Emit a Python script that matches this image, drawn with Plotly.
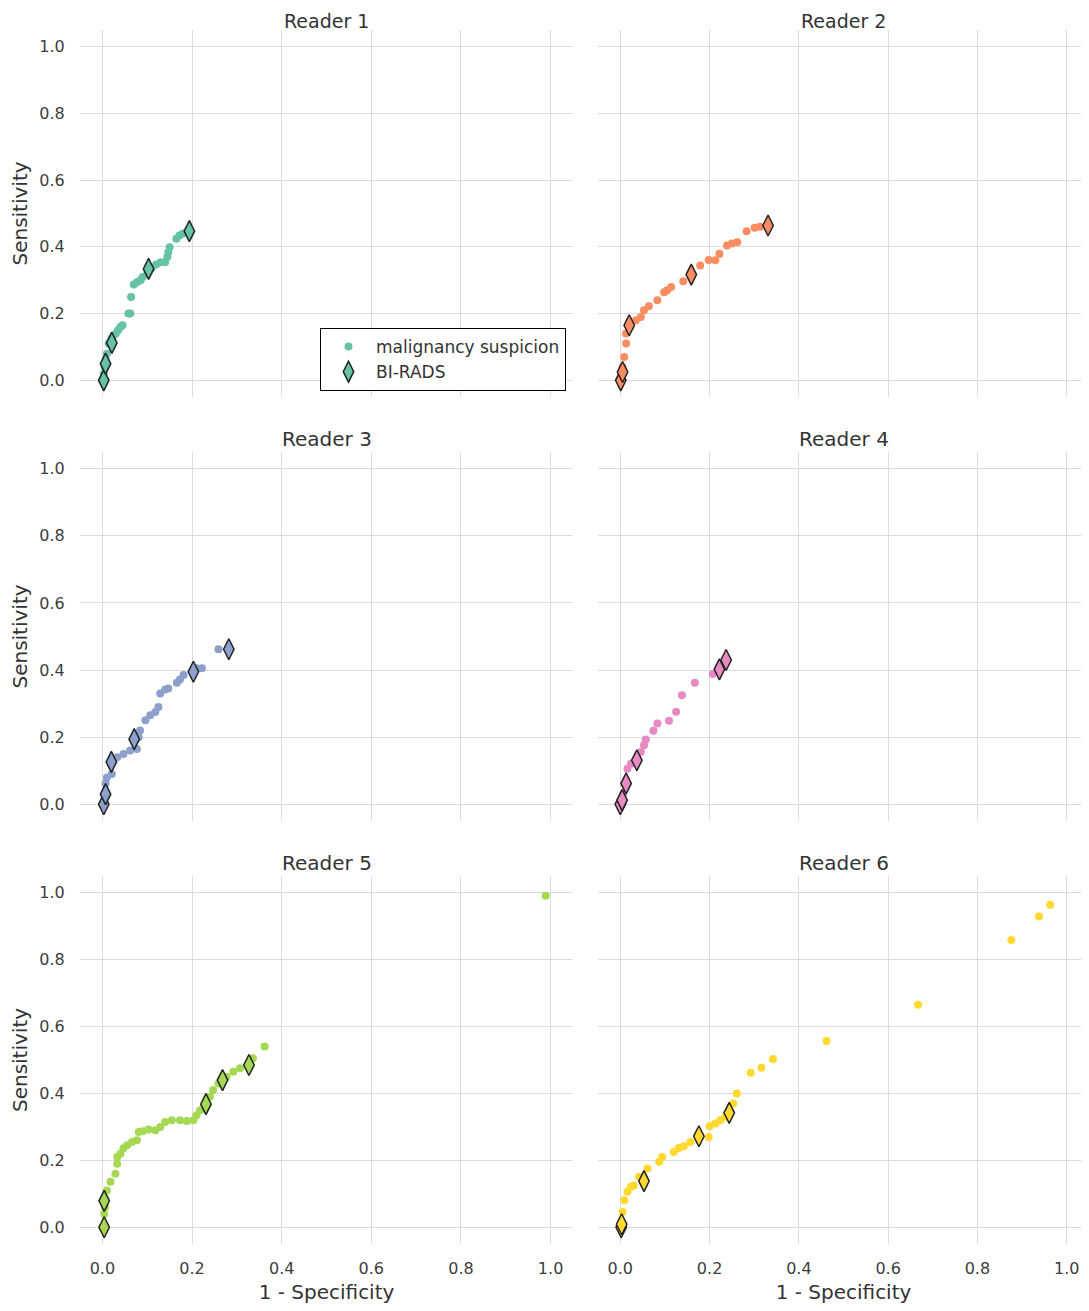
import plotly.graph_objects as go

readers = ["Reader 1", "Reader 2", "Reader 3", "Reader 4", "Reader 5", "Reader 6"]
colors = ["#66c2a5", "#fc8d62", "#8da0cb", "#e78ac3", "#a6d854", "#ffd92f"]

# malignancy suspicion operating points (1 - specificity, sensitivity)
ms_fpr = [
    [0.0, 0.003, 0.005, 0.007, 0.01, 0.014, 0.02, 0.025, 0.03, 0.035, 0.04, 0.045, 0.058, 0.062, 0.064, 0.07,
     0.078, 0.085, 0.09, 0.1, 0.11, 0.12, 0.13, 0.14, 0.145, 0.147, 0.15, 0.165, 0.172, 0.18, 0.19],
    [0.0, 0.005, 0.009, 0.013, 0.013, 0.02, 0.035, 0.046, 0.053, 0.064, 0.083, 0.098, 0.105, 0.114, 0.141,
     0.179, 0.198, 0.213, 0.222, 0.239, 0.25, 0.262, 0.283, 0.301, 0.313],
    [0.0, 0.007, 0.01, 0.021, 0.033, 0.047, 0.062, 0.077, 0.081, 0.084, 0.096, 0.107, 0.118, 0.125, 0.129,
     0.14, 0.147, 0.166, 0.173, 0.181, 0.21, 0.222, 0.259],
    [0.0, 0.006, 0.013, 0.016, 0.024, 0.046, 0.053, 0.057, 0.074, 0.083, 0.109, 0.125, 0.138, 0.167, 0.207],
    [0.0, 0.004, 0.006, 0.01, 0.018, 0.029, 0.033, 0.033, 0.04, 0.047, 0.055, 0.066, 0.077, 0.081, 0.09, 0.103,
     0.118, 0.129, 0.14, 0.155, 0.173, 0.188, 0.203, 0.21, 0.218, 0.24, 0.247, 0.259, 0.277, 0.292, 0.307,
     0.336, 0.362, 0.989],
    [0.0, 0.005, 0.009, 0.016, 0.024, 0.03, 0.042, 0.061, 0.087, 0.094, 0.12, 0.131, 0.142, 0.157, 0.198, 0.2,
     0.213, 0.224, 0.235, 0.253, 0.261, 0.292, 0.316, 0.342, 0.462, 0.667, 0.876, 0.938, 0.963],
]
ms_tpr = [
    [0.0, 0.02, 0.04, 0.06, 0.08, 0.11, 0.125, 0.135, 0.14, 0.15, 0.16, 0.165, 0.2, 0.2, 0.25, 0.287,
     0.295, 0.3, 0.31, 0.32, 0.337, 0.347, 0.354, 0.354, 0.37, 0.384, 0.399, 0.424, 0.434, 0.44, 0.445],
    [0.0, 0.04, 0.07, 0.11, 0.14, 0.16, 0.18, 0.19, 0.21, 0.222, 0.24, 0.264, 0.27, 0.28, 0.297,
     0.344, 0.361, 0.36, 0.379, 0.404, 0.41, 0.414, 0.447, 0.457, 0.46],
    [0.0, 0.062, 0.08, 0.09, 0.14, 0.15, 0.16, 0.165, 0.2, 0.22, 0.25, 0.265, 0.275, 0.29, 0.33,
     0.342, 0.345, 0.362, 0.372, 0.385, 0.405, 0.405, 0.462],
    [0.0, 0.03, 0.07, 0.106, 0.121, 0.156, 0.176, 0.193, 0.219, 0.241, 0.249, 0.276, 0.325, 0.362, 0.388],
    [0.0, 0.04, 0.06, 0.11, 0.136, 0.16, 0.19, 0.21, 0.22, 0.236, 0.245, 0.255, 0.26, 0.285, 0.287, 0.292,
     0.29, 0.3, 0.315, 0.32, 0.32, 0.318, 0.32, 0.335, 0.35, 0.39, 0.41, 0.43, 0.45, 0.465, 0.475,
     0.505, 0.54, 0.991],
    [0.0, 0.046, 0.081, 0.106, 0.121, 0.125, 0.151, 0.176, 0.196, 0.21, 0.225, 0.237, 0.242, 0.255, 0.27, 0.302,
     0.31, 0.32, 0.33, 0.37, 0.4, 0.462, 0.477, 0.503, 0.557, 0.665, 0.859, 0.929, 0.964],
]

# BI-RADS operating points
bi_fpr = [
    [0.003, 0.007, 0.021, 0.103, 0.194],
    [0.001, 0.005, 0.02, 0.159, 0.331],
    [0.003, 0.007, 0.02, 0.071, 0.203, 0.282],
    [0.0, 0.004, 0.013, 0.037, 0.222, 0.237],
    [0.004, 0.004, 0.231, 0.268, 0.327],
    [0.002, 0.003, 0.053, 0.176, 0.244],
]
bi_tpr = [
    [0.0, 0.05, 0.112, 0.334, 0.447],
    [0.0, 0.025, 0.165, 0.317, 0.464],
    [0.0, 0.03, 0.126, 0.194, 0.395, 0.462],
    [0.0, 0.012, 0.062, 0.131, 0.402, 0.43],
    [0.0, 0.079, 0.368, 0.44, 0.485],
    [0.0, 0.009, 0.138, 0.272, 0.342],
]

# page has an 8px body margin, so the figure is drawn 8px smaller and positions are offset
OFF = 8
W, H = 1089 - OFF, 1311 - OFF
col_px = [(80, 573), (598, 1089)]
row_px = [(30, 397), (452, 821), (876, 1244)]
col_dom = [[(a - OFF) / W, min(1.0, (b - OFF) / W)] for a, b in col_px]
row_dom = [[1 - (b - OFF) / H, 1 - (t - OFF) / H] for t, b in row_px]

font_family = "DejaVu Sans, Verdana, sans-serif"
tick_font = dict(family=font_family, size=16, color="#3d3d3d")
title_font = dict(family=font_family, size=20, color="#333333")
panel_title_font = dict(family=font_family, size=19, color="#333333")
grid_color = "#dcdcdc"

fig = go.Figure()
layout = dict(
    width=W, height=H,
    margin=dict(l=0, r=0, t=0, b=0),
    plot_bgcolor="white", paper_bgcolor="white",
    font=dict(family=font_family, color="#3a3a3a"),
    showlegend=True,
    legend=dict(
        x=(566 - OFF) / W, y=1 - (328 - OFF) / H, xanchor="right", yanchor="top",
        bgcolor="white", bordercolor="#000000", borderwidth=1,
        font=dict(family=font_family, size=17, color="#333333"),
        itemsizing="trace", itemwidth=45, tracegroupgap=0,
    ),
    annotations=[],
)

for i, name in enumerate(readers):
    r, c = divmod(i, 2)
    idx = i + 1
    xa = "x" if idx == 1 else f"x{idx}"
    ya = "y" if idx == 1 else f"y{idx}"
    fig.add_trace(go.Scatter(
        x=ms_fpr[i], y=ms_tpr[i], mode="markers", xaxis=xa, yaxis=ya,
        name="malignancy suspicion", legendgroup="ms", showlegend=(i == 0),
        marker=dict(symbol="circle", size=8, color=colors[i], line=dict(width=0)),
    ))
    fig.add_trace(go.Scatter(
        x=bi_fpr[i], y=bi_tpr[i], mode="markers", xaxis=xa, yaxis=ya,
        name="BI-RADS", legendgroup="bi", showlegend=(i == 0),
        marker=dict(symbol="diamond-tall", size=15, color=colors[i],
                    line=dict(width=1.5, color="#222222")),
    ))
    xkey = "xaxis" if idx == 1 else f"xaxis{idx}"
    ykey = "yaxis" if idx == 1 else f"yaxis{idx}"
    layout[xkey] = dict(
        domain=col_dom[c], anchor=ya, range=[-0.05, 1.05],
        tickmode="array", tickvals=[0, 0.2, 0.4, 0.6, 0.8, 1.0],
        ticktext=["0.0", "0.2", "0.4", "0.6", "0.8", "1.0"],
        showticklabels=(r == 2), showgrid=True, gridcolor=grid_color, gridwidth=1,
        zeroline=False, showline=False, ticks="outside", ticklen=10, tickcolor="rgba(0,0,0,0)",
        tickfont=tick_font,
        title=dict(text="1 - Specificity" if r == 2 else "", font=title_font, standoff=7),
    )
    layout[ykey] = dict(
        domain=row_dom[r], anchor=xa, range=[-0.05, 1.05],
        tickmode="array", tickvals=[0, 0.2, 0.4, 0.6, 0.8, 1.0],
        ticktext=["0.0", "0.2", "0.4", "0.6", "0.8", "1.0"],
        showticklabels=(c == 0), showgrid=True, gridcolor=grid_color, gridwidth=1,
        zeroline=False, showline=False, ticks="outside", ticklen=11, tickcolor="rgba(0,0,0,0)",
        tickfont=tick_font,
        title=dict(text="Sensitivity" if c == 0 else "", font=title_font, standoff=10),
    )
    if r == 0:
        ann_y, ann_anchor = 1.0, "top"
    else:
        ann_y, ann_anchor = row_dom[r][1] + 13 / H, "middle"
    layout["annotations"].append(dict(
        text=name, xref="paper", yref="paper",
        x=(col_dom[c][0] + col_dom[c][1]) / 2, y=ann_y,
        xanchor="center", yanchor=ann_anchor, showarrow=False,
        font=panel_title_font if r == 0 else title_font,
    ))

fig.update_layout(**layout)
fig.write_html("out.html")
